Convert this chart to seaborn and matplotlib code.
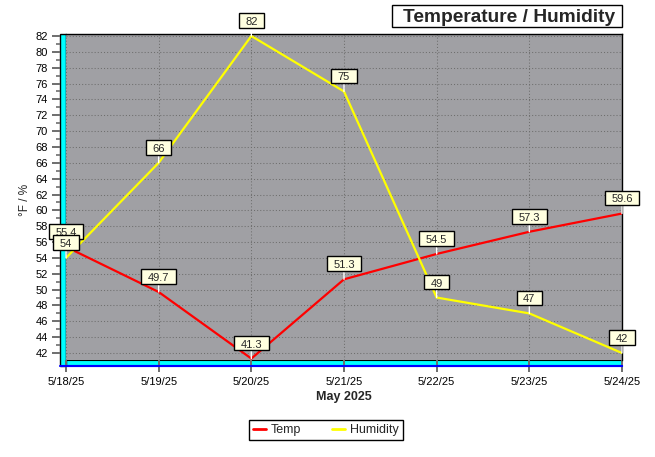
import matplotlib
matplotlib.use("Agg")
import matplotlib.pyplot as plt
from matplotlib.patches import Rectangle
from matplotlib.lines import Line2D
from matplotlib.path import Path
from matplotlib.ticker import MultipleLocator
import seaborn as sns
import pandas as pd

dates = ["5/18/25", "5/19/25", "5/20/25", "5/21/25", "5/22/25", "5/23/25", "5/24/25"]
temp = [55.4, 49.7, 41.3, 51.3, 54.5, 57.3, 59.6]
humidity = [54, 66, 82, 75, 49, 47, 42]
series_names = ["Temp", "Humidity"]
title = "Temperature / Humidity"
xlabel = "May 2025"
ylabel = "°F / %"

df = pd.DataFrame({"pos": range(len(dates)), "date": dates, "Temp": temp, "Humidity": humidity})
long = df.melt(id_vars=["pos", "date"], value_vars=series_names, var_name="series", value_name="value")

sns.set_theme(style="white")
plt.rcParams["font.family"] = ["Liberation Sans", "DejaVu Sans"]

W, H = 655, 457
fig = plt.figure(figsize=(W / 100, H / 100), dpi=100)
fig.patch.set_facecolor("white")

L, R, T, B = 66, 622, 34, 360
ax = fig.add_axes([L / W, 1 - B / H, (R - L) / W, (B - T) / H])
ax.set_facecolor("#a0a0a4")

palette = {"Temp": "#ff0000", "Humidity": "#ffff00"}
sns.lineplot(data=long, x="pos", y="value", hue="series", palette=palette,
             linewidth=1.6, ax=ax, legend=False, zorder=3)

ax.set_xlim(0, len(dates) - 1)
ax.set_ylim(41.12, 82.25)
ax.set_xticks(df["pos"])
ax.set_xticklabels(dates)
ax.yaxis.set_major_locator(MultipleLocator(2))
ax.yaxis.set_minor_locator(MultipleLocator(1))
ax.set_yticks([v for v in range(42, 83, 2)])

ax.grid(True, which="major", color="#6e6e6e", linestyle=(0, (1, 2)), linewidth=0.75)
ax.set_axisbelow(True)

for s in ["top", "right"]:
    ax.spines[s].set_color("black")
    ax.spines[s].set_linewidth(1)
ax.spines["left"].set_position(("outward", 4.32))
ax.spines["left"].set_visible(False)
ax.spines["bottom"].set_position(("outward", 4.32))
ax.spines["bottom"].set_color("#0000ff")
ax.spines["bottom"].set_linewidth(1.5)

ax.tick_params(axis="y", which="major", direction="out", length=5.8, width=1.4,
               color="#6e6e6e", labelsize=8, pad=3, labelcolor="black", left=True)
ax.tick_params(axis="y", which="minor", direction="out", length=2.9, width=1.2,
               color="#6e6e6e", left=True)
ax.tick_params(axis="x", which="major", direction="inout", length=8, width=1.4,
               color="#6e6e6e", labelsize=8, pad=4, labelcolor="black", bottom=True)

ax.set_xlabel(xlabel, fontsize=9, fontweight="bold", labelpad=3)
ax.set_ylabel("")
fig.text(25 / W, 1 - 200 / H, ylabel, rotation=90, ha="center", va="center", fontsize=8.5)

# 3D-style wall and floor (drawn beneath the axes content)
wall = Rectangle((60 / W, 1 - 366 / H), 6 / W, (366 - T) / H, transform=fig.transFigure,
                 facecolor="#00ffff", edgecolor="black", linewidth=1, zorder=-2)
floor = Rectangle((60 / W, 1 - 366 / H), (R - 60) / W, 6 / H, transform=fig.transFigure,
                  facecolor="#00ffff", edgecolor="none", zorder=-3)
fig.add_artist(floor)
fig.add_artist(wall)
fig.add_artist(Line2D([60 / W, R / W], [1 - 365.5 / H, 1 - 365.5 / H], transform=fig.transFigure,
                      color="#0000ff", linewidth=1.5, zorder=-1))
fig.add_artist(Line2D([65.5 / W, 65.5 / W], [1 - 360 / H, 1 - T / H], transform=fig.transFigure,
                      color="#000080", linewidth=0.8, zorder=-1))
fig.add_artist(Line2D([65.5 / W, R / W], [1 - 360 / H, 1 - 360 / H], transform=fig.transFigure,
                      color="black", linewidth=0.8, zorder=-1))


def make_box(px_left, px_right, py_bottom, py_top):
    def box(x0, y0, width, height, mutation_size):
        x1 = x0 + width
        y1 = y0 + height
        return Path([(x0 - px_left, y0 - py_bottom), (x1 + px_right, y0 - py_bottom),
                     (x1 + px_right, y1 + py_top), (x0 - px_left, y1 + py_top),
                     (x0 - px_left, y0 - py_bottom)], closed=True)
    return box


label_box = make_box(6.5, 6.5, 0.8, 3.8)

# data labels
for name in series_names:
    for x, v in zip(df["pos"], df[name]):
        txt = f"{v:g}"
        ax.annotate(txt, xy=(x, v), xytext=(0, 6.5), textcoords="offset points",
                    ha="center", va="bottom", fontsize=8, zorder=10,
                    bbox=dict(boxstyle=label_box, facecolor="#ffffe0",
                              edgecolor="black", linewidth=1),
                    arrowprops=dict(arrowstyle="-", color="white", lw=1,
                                    shrinkA=0, shrinkB=0),
                    annotation_clip=False)

# title
fig.text(615 / W, 1 - 22 / H, title, ha="right", va="baseline", fontsize=13.8, fontweight="bold",
         bbox=dict(boxstyle=make_box(11, 7, 1, 4), facecolor="white", edgecolor="black",
                   linewidth=1))

# legend
handles = [Line2D([0], [0], color=palette[n], linewidth=2) for n in series_names]
fig.legend(handles, series_names, loc="center", bbox_to_anchor=(326 / W, 1 - 430 / H),
           ncol=2, fontsize=9, frameon=True, fancybox=False, edgecolor="black",
           handlelength=1.0, handletextpad=0.4, columnspacing=2.5, borderpad=0.35,
           framealpha=1)
leg = fig.legends[0]
leg.get_frame().set_linewidth(1)

fig.savefig("out.png", dpi=100, facecolor="white")
